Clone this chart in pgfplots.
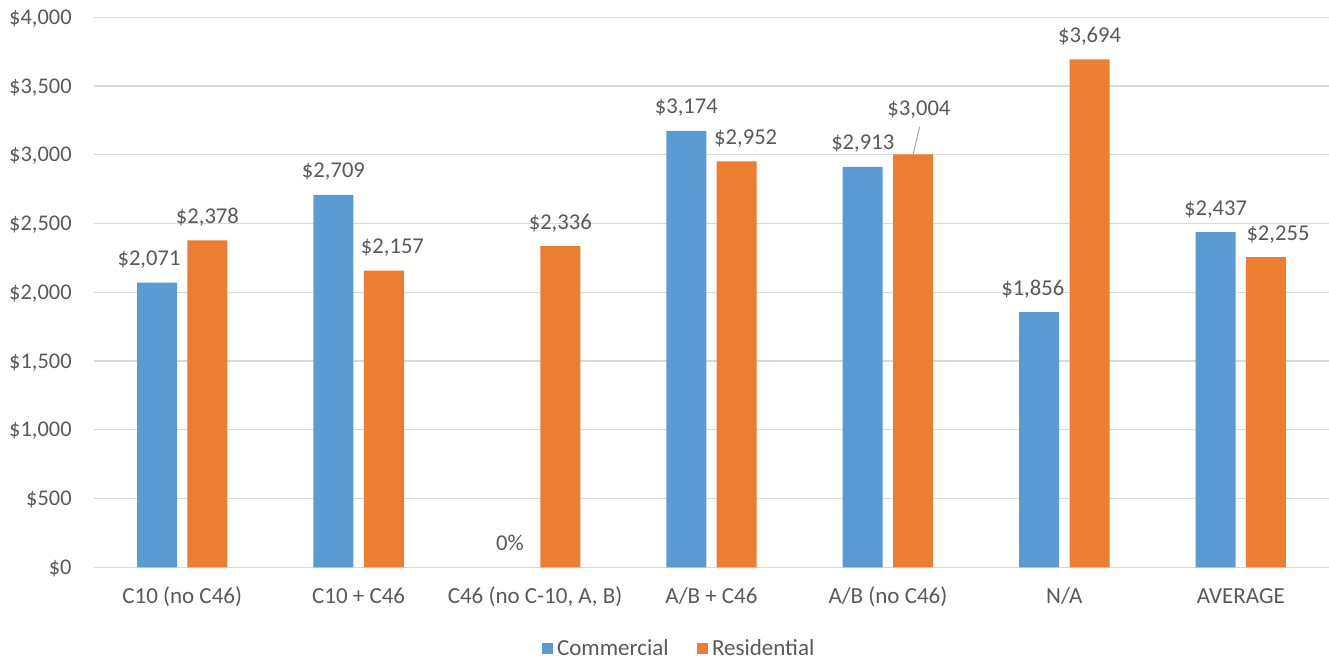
\documentclass[border=0pt]{standalone}
\usepackage{pgfplots}
\usepackage{pgfplotstable}
\pgfplotsset{compat=1.18}
\usepackage{fontspec}
\setmainfont{Carlito}
\definecolor{cblue}{HTML}{5B9BD5}
\definecolor{corange}{HTML}{ED7D31}
\definecolor{cgrid}{HTML}{D9D9D9}
\definecolor{ctext}{HTML}{595959}
\definecolor{cline}{HTML}{A6A6A6}
\newcommand{\cf}{\fontsize{11.3}{13}\selectfont}
\newcommand{\cfy}{\fontsize{11.2}{13}\selectfont}
\newcommand{\cfx}{\fontsize{11.5}{13}\selectfont}
\pgfplotsset{/pgf/number format/.cd, fixed, precision=0, 1000 sep={,}, assume math mode=true}
% label x offsets (pt) relative to category centre
\pgfplotstableread{
x y dx
0 2071 -16.6
1 2709 -12.6
3 3174 -12.6
4 2913 -12.6
5 1856 -15.8
6 2437 -12.6
}\commercial
\pgfplotstableread{
x y
0 2378
1 2157
2 2336
3 2952
4 3004
5 3694
6 2255
}\residential
\pgfplotstableread{
x y dx
0 2378 12.6
1 2157 16.9
2 2336 12.6
3 2952 17.1
5 3694 12.6
6 2255 18.6
}\residentiallabels
\begin{document}
\begin{tikzpicture}
\useasboundingbox (-47pt,-46.35pt) rectangle (617.5pt,283.65pt);
\begin{axis}[
  scale only axis, width=617.5pt, height=275pt,
  xmin=-0.5, xmax=6.5, ymin=0, ymax=4000,
  enlargelimits=false, clip=false,
  axis line style={draw=none},
  major tick length=0pt,
  ytick={0,500,...,4000},
  ymajorgrids, grid style={cgrid, line width=0.6pt},
  xtick={0,...,6},
  xticklabels={C10 (no C46), C10 + C46, {C46 (no C-10, A, B)}, A/B + C46, A/B (no C46), N/A, AVERAGE},
  yticklabel={\$\pgfmathprintnumber{\tick}},
  yticklabel style={anchor=base east, inner sep=0pt, xshift=-11pt, yshift=-3.5pt, font=\cfy, text=ctext},
  xticklabel style={anchor=base, inner sep=0pt, yshift=-18pt, font=\cfx, text=ctext},
  legend style={at={(0.4745,-0.1485)}, anchor=center, draw=none, fill=none,
    legend columns=2, font=\cfx, text=ctext,
    /tikz/every even column/.append style={column sep=12pt}},
  legend image code/.code={\draw[#1, draw=none] (0pt,-2.75pt) rectangle (5.7pt,2.75pt);},
  lbl/.style={nodes near coords={\$\pgfmathprintnumber{\pgfplotspointmeta}},
    visualization depends on={\thisrow{dx}\as\dx},
    every node near coord/.append style={anchor=base, inner sep=0pt, xshift=\dx, yshift=8.5pt, font=\cf, text=ctext}},
  hid/.style={ybar, bar width=20pt, draw=none, fill=none, forget plot},
]
% Commercial
\addplot[ybar, bar width=20pt, bar shift=-12.6pt, fill=cblue, draw=none, lbl]
  table[x=x, y=y] {\commercial};
\addlegendentry{Commercial}
% Residential
\addplot[ybar, bar width=20pt, bar shift=12.6pt, fill=corange, draw=none]
  table[x=x, y=y] {\residential};
\addlegendentry{Residential}
% Residential labels (except the moved one)
\addplot[hid, bar shift=12.6pt, lbl]
  table[x=x, y=y] {\residentiallabels};
% Moved label with leader line
\addplot[hid, bar shift=12.6pt, nodes near coords={\$\pgfmathprintnumber{\pgfplotspointmeta}},
  every node near coord/.append style={anchor=base, inner sep=0pt, yshift=19.5pt, xshift=15.5pt, font=\cf, text=ctext}]
  coordinates {(4,3004)};
\addplot[sharp plot, no marks, draw=cline, line width=0.5pt, forget plot]
  coordinates {(4.1429,3004) (4.1797,3204)};
% Zero commercial label
\addplot[hid, bar shift=-12.6pt, nodes near coords={0\%},
  every node near coord/.append style={anchor=base, inner sep=0pt, xshift=-12.6pt, yshift=8.3pt, font=\cf, text=ctext}]
  coordinates {(2,0)};
\end{axis}
\end{tikzpicture}
\end{document}
